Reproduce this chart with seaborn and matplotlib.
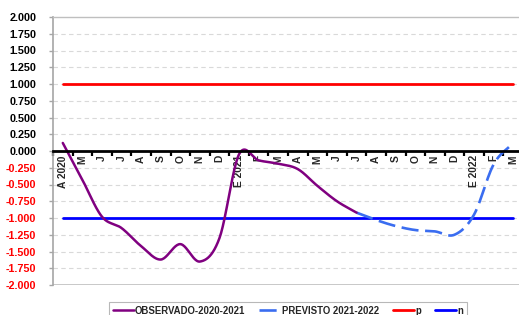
import numpy as np
import pandas as pd
import matplotlib
matplotlib.use("Agg")
import matplotlib.pyplot as plt
import seaborn as sns

# ---- data ----
months = ["A 2020", "M", "J", "J", "A", "S", "O", "N", "D", "E 2021", "F", "M",
          "A", "M", "J", "J", "A", "S", "O", "N", "D", "E 2022", "F", "M"]
observado = [0.12, -0.43, -0.98, -1.15, -1.42, -1.62, -1.39, -1.65, -1.30, -0.05,
             -0.14, -0.19, -0.27, -0.52, -0.75, -0.92]          # months 0..15
previsto_start = 15
previsto = [-0.92, -1.03, -1.12, -1.18, -1.20, -1.25, -0.95, -0.20, 0.12]  # months 15..23
p_value = 1.0
n_value = -1.0
yticks = [-2.0 + 0.25 * i for i in range(17)]

sns.set_theme(style="white")
plt.rcParams['font.family'] = ['Liberation Sans', 'DejaVu Sans']
plt.rcParams['font.weight'] = 'bold'


def smooth(xs, ys, per=24):
    """Catmull-Rom rendering of a smoothed line (like a spreadsheet 'smoothed line')."""
    xs = np.asarray(xs, float)
    ys = np.asarray(ys, float)
    px = np.concatenate([[2 * xs[0] - xs[1]], xs, [2 * xs[-1] - xs[-2]]])
    py = np.concatenate([[2 * ys[0] - ys[1]], ys, [2 * ys[-1] - ys[-2]]])
    ox, oy = [], []
    for i in range(1, len(px) - 2):
        t = np.linspace(0, 1, per, endpoint=False)
        for arr, out in ((px, ox), (py, oy)):
            p0, p1, p2, p3 = arr[i - 1], arr[i], arr[i + 1], arr[i + 2]
            out.extend(0.5 * ((2 * p1) + (-p0 + p2) * t +
                              (2 * p0 - 5 * p1 + 4 * p2 - p3) * t ** 2 +
                              (-p0 + 3 * p1 - 3 * p2 + p3) * t ** 3))
    ox.append(xs[-1]); oy.append(ys[-1])
    return pd.DataFrame({"x": ox, "y": oy})


fig = plt.figure(figsize=(5.19, 3.15), dpi=100)
ax = fig.add_axes([53 / 519, 30 / 315, 470 / 519, 268 / 315])

x_obs = list(range(len(observado)))
x_prev = list(range(previsto_start, previsto_start + len(previsto)))
x_all = list(range(len(months)))

df_obs = smooth(x_obs, observado)
df_prev = smooth(x_prev, previsto)
df_p = pd.DataFrame({"x": [x_all[0], x_all[-1]], "y": [p_value, p_value]})
df_n = pd.DataFrame({"x": [x_all[0], x_all[-1]], "y": [n_value, n_value]})

# grid
for yv in yticks:
    if yv not in (0.0, -2.0, 2.0):
        ax.axhline(yv, color="#d9d9d9", lw=0.8, ls=(0, (4, 3)), zorder=0)
ax.axhline(-2.0, color="#bfbfbf", lw=1.2, zorder=1)

sns.lineplot(data=df_obs, x="x", y="y", ax=ax, color="#800080", lw=1.8,
             sort=False, label="OBSERVADO-2020-2021", zorder=4)
sns.lineplot(data=df_prev, x="x", y="y", ax=ax, color="#3a6df0", lw=1.9,
             sort=False, label="PREVISTO 2021-2022", zorder=3,
             linestyle=(0, (6.5, 2.5)))
sns.lineplot(data=df_p, x="x", y="y", ax=ax, color="#ff0000", lw=2.0,
             label="p", zorder=2)
sns.lineplot(data=df_n, x="x", y="y", ax=ax, color="#0000ff", lw=2.0,
             label="n", zorder=2)

ax.set_xlim(-0.5, len(months) - 0.5)
ax.set_ylim(-2.0, 2.0)
ax.set_xlabel("")
ax.set_ylabel("")

# axes styling
ax.spines['bottom'].set_position(('data', 0))
ax.spines['bottom'].set_color("black")
ax.spines['bottom'].set_linewidth(2.0)
ax.spines['bottom'].set_zorder(5)
ax.spines['left'].set_color("#a6a6a6")
ax.spines['left'].set_linewidth(1.2)
ax.spines['top'].set_color("#bfbfbf")
ax.spines['top'].set_linewidth(1.0)
ax.spines['right'].set_visible(False)

ax.set_xticks(x_all)
ax.set_xticklabels(months, rotation=90, fontsize=7.4, fontweight='bold')
ax.set_xticks([i - 0.5 for i in range(len(months) + 1)], minor=True)
ax.tick_params(axis='x', which='major', length=0, pad=3)
ax.tick_params(axis='x', which='minor', length=3.5, width=1.6, direction='out',
               color='black', bottom=True)

ax.set_yticks(yticks)
ax.set_yticklabels([f"{v:.3f}" for v in yticks], fontsize=7.8, fontweight='bold')
for lab, v in zip(ax.get_yticklabels(), yticks):
    lab.set_color("#ff0000" if v < 0 else "black")
ax.tick_params(axis='y', which='major', length=3, width=1, color="#a6a6a6",
               direction='out', left=True, pad=9)

leg = ax.legend(loc='upper center', bbox_to_anchor=(288 / 519, 1 - 302 / 315),
                bbox_transform=fig.transFigure, ncol=4, frameon=True,
                fancybox=False, edgecolor="#a6a6a6", fontsize=6.9,
                handlelength=2.2, handletextpad=0.15, columnspacing=1.45,
                borderpad=0.4, borderaxespad=0)
for t in leg.get_texts():
    t.set_fontweight('bold')
leg.get_frame().set_linewidth(0.8)

fig.savefig("out.png", dpi=100)
